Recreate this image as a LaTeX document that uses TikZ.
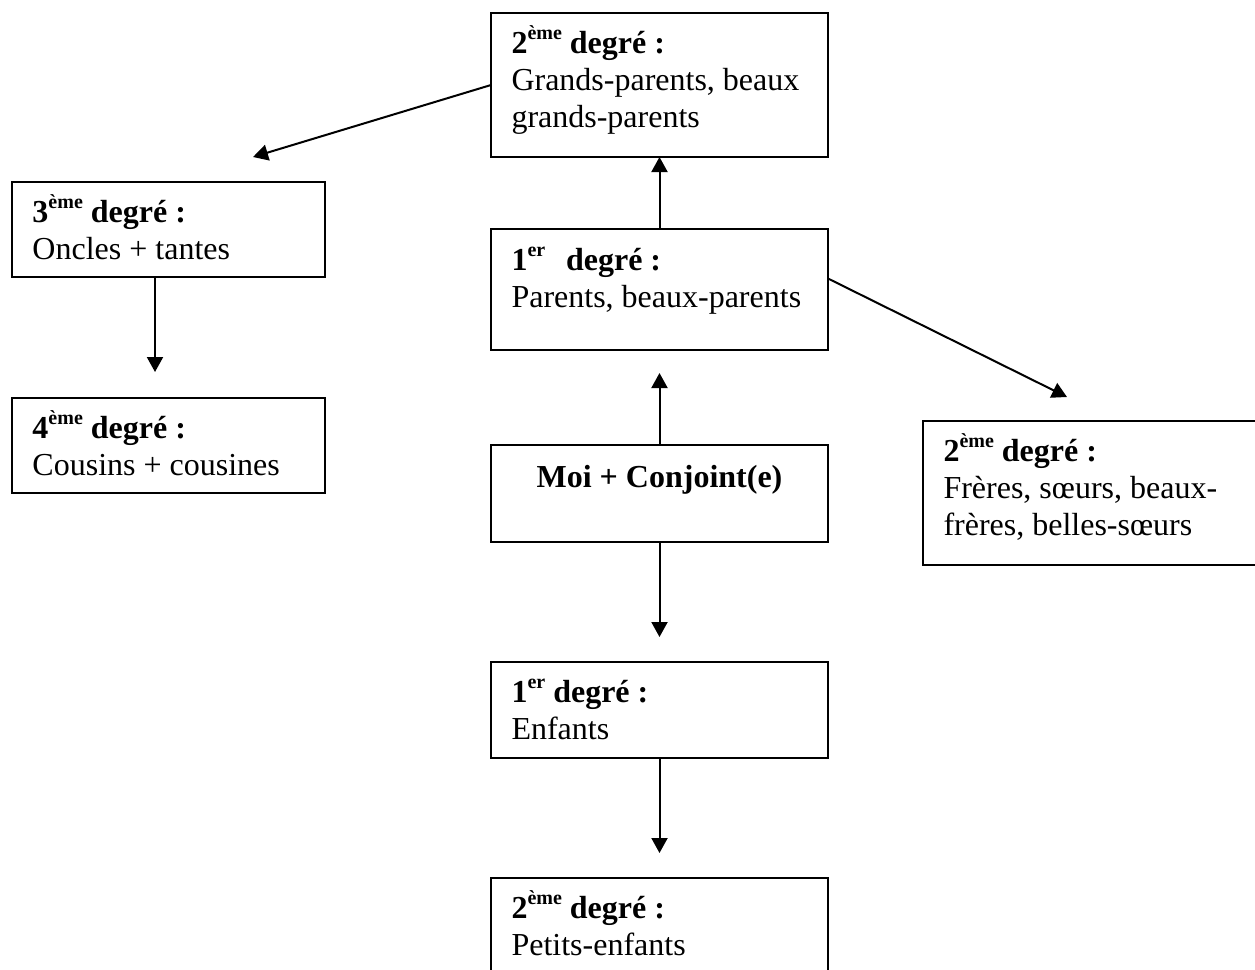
\documentclass[tikz,border=0pt]{standalone}
\usepackage{fontspec}
\setmainfont{Liberation Serif}
\usetikzlibrary{arrows.meta,calc}
\setlength{\parindent}{0pt}
\newcommand{\sups}[1]{\raisebox{5.6pt}{\fontsize{8}{8}\selectfont #1}}
\begin{document}
\begin{tikzpicture}[x=0.4pt,y=-0.4pt,
  box/.style={draw, line width=0.8pt, anchor=north west, inner sep=0pt, outer sep=0pt},
  txt/.style={anchor=base west, inner sep=0pt, text width=130pt,
              font=\fontsize{12.8}{14.8}\selectfont,
              execute at begin node={\spaceskip=0pt\xspaceskip=0pt\raggedright}},
  ctxt/.style={anchor=base, inner sep=0pt, font=\fontsize{12.8}{14.8}\selectfont},
  arr/.style={line width=0.8pt, -{Triangle[width=6.4pt,length=6pt]}}
]
\useasboundingbox (0,0) rectangle (1255,969);
\clip (0,0) rectangle (1255,969);

% boxes
\node[box, minimum width=337*0.4pt, minimum height=144*0.4pt] (A) at (491,13) {};
\node[box, minimum width=313*0.4pt, minimum height=95*0.4pt]  (B) at (12,182) {};
\node[box, minimum width=313*0.4pt, minimum height=95*0.4pt]  (C) at (12,398) {};
\node[box, minimum width=337*0.4pt, minimum height=121*0.4pt] (D) at (491,229) {};
\node[box, minimum width=337*0.4pt, minimum height=97*0.4pt]  (E) at (491,445) {};
\node[box, minimum width=345*0.4pt, minimum height=144*0.4pt] (F) at (923,421) {};
\node[box, minimum width=337*0.4pt, minimum height=96*0.4pt]  (G) at (491,662) {};
\node[box, minimum width=337*0.4pt, minimum height=110*0.4pt] (H) at (491,878) {};

% texts
\node[txt] (At) at ($(A.north west)+(20,40)$) {\textbf{2\sups{ème} degré :}\\Grands-parents, beaux\\grands-parents};
\node[txt] (Bt) at ($(B.north west)+(20,40)$) {\textbf{3\sups{ème} degré :}\\Oncles + tantes};
\node[txt] (Ct) at ($(C.north west)+(20,40)$) {\textbf{4\sups{ème} degré :}\\Cousins + cousines};
\node[txt] (Dt) at ($(D.north west)+(20,41)$) {\textbf{1\sups{er}\hspace{0.65em}degré :}\\Parents, beaux-parents};
\node[ctxt] (Et) at ($(E.north)+(0,42)$) {\textbf{Moi + Conjoint(e)}};
\node[txt] (Ft) at ($(F.north west)+(20,40)$) {\textbf{2\sups{ème} degré :}\\Frères, sœurs, beaux-\\frères, belles-sœurs};
\node[txt] (Gt) at ($(G.north west)+(20,40)$) {\textbf{1\sups{er} degré :}\\Enfants};
\node[txt] (Ht) at ($(H.north west)+(20,40)$) {\textbf{2\sups{ème} degré :}\\Petits-enfants};

% free arrow ends
\coordinate (tAB) at (253,157);
\coordinate (tBC) at (155,372);
\coordinate (tED) at (659.5,373);
\coordinate (tDF) at (1067,397);
\coordinate (tEG) at (659.5,637);
\coordinate (tGH) at (659.5,853);

% connectors
\draw[arr] (A.west) -- (tAB);
\draw[arr] (B.south -| tBC) -- (tBC);
\draw[arr] (D.north) -- (A.south);
\draw[arr] (E.north) -- (tED);
\draw[arr] ($(D.east)+(0,-11)$) -- (tDF);
\draw[arr] (E.south) -- (tEG);
\draw[arr] (G.south) -- (tGH);
\end{tikzpicture}
\end{document}
